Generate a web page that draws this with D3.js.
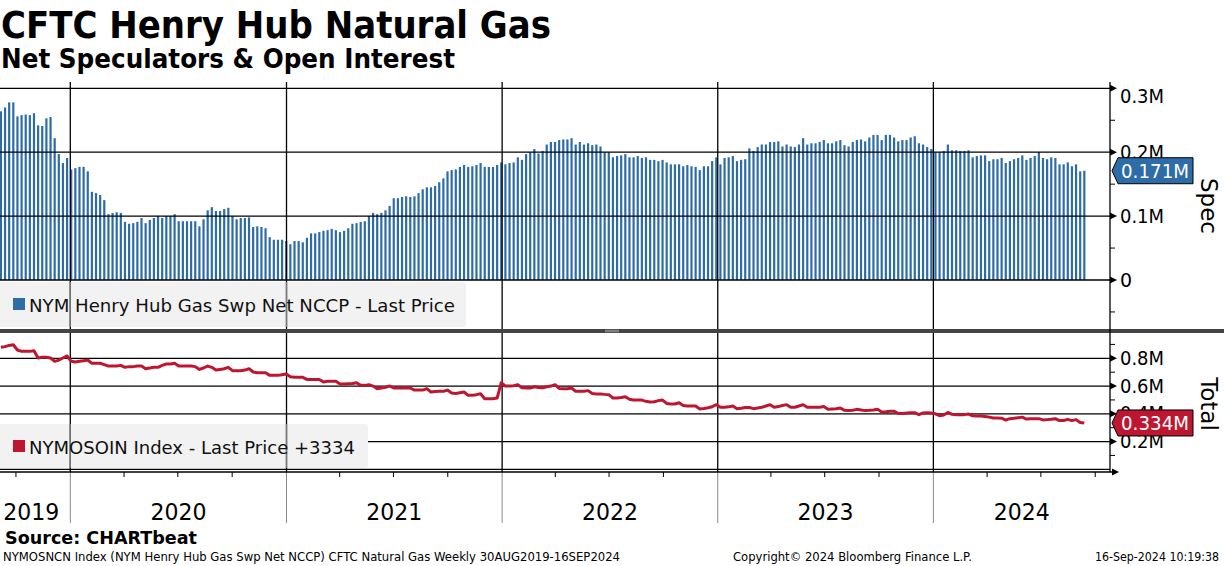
<!DOCTYPE html>
<html>
<head>
<meta charset="utf-8">
<script src="https://cdn.jsdelivr.net/npm/d3@7/dist/d3.min.js"></script>
<style>
  html, body { margin: 0; padding: 0; background: #fff; }
  svg { display: block; font-family: "DejaVu Sans", Verdana, sans-serif; }
</style>
</head>
<body>
<div id="chart"></div>
<script>
// CFTC Henry Hub natural gas: net speculators (bars) and open interest (line), weekly

var FIRST_WEEK = new Date(2019, 8, 3);   // first CFTC Tuesday shown

// net non-commercial position, thousands of contracts
var specK = [
  264, 270, 278, 278, 256, 258, 259, 258, 261, 242,
  241, 253, 255, 222, 197, 183, 191, 173, 175, 177,
  177, 170, 138, 136, 133, 125, 103, 105, 106, 105,
  91, 88, 89, 91, 97, 89, 94, 97, 100, 97,
  100, 100, 103, 92, 92, 92, 92, 92, 84, 95,
  109, 114, 108, 108, 111, 113, 100, 95, 97, 97,
  98, 83, 84, 83, 81, 67, 63, 63, 63, 61,
  56, 61, 61, 59, 66, 73, 73, 75, 77, 78,
  80, 78, 75, 77, 81, 88, 89, 91, 92, 100,
  105, 103, 105, 109, 116, 128, 128, 130, 131, 130,
  131, 136, 142, 145, 145, 147, 153, 159, 170, 172,
  173, 177, 180, 177, 178, 180, 183, 177, 177, 177,
  180, 184, 181, 183, 184, 192, 188, 197, 200, 205,
  198, 202, 212, 216, 216, 219, 220, 220, 222, 212,
  216, 212, 214, 211, 212, 209, 200, 200, 192, 194,
  195, 197, 192, 192, 194, 191, 192, 188, 188, 186,
  188, 184, 181, 181, 181, 178, 180, 178, 177, 172,
  178, 178, 186, 192, 181, 191, 192, 194, 186, 188,
  189, 206, 202, 208, 212, 212, 216, 216, 217, 209,
  212, 209, 208, 212, 222, 212, 214, 214, 216, 219,
  214, 214, 217, 219, 211, 209, 216, 219, 220, 217,
  223, 227, 227, 219, 227, 227, 223, 217, 219, 219,
  223, 225, 214, 212, 208, 205, 200, 200, 202, 212,
  203, 203, 202, 202, 203, 192, 194, 195, 195, 186,
  189, 189, 191, 183, 186, 189, 191, 195, 188, 191,
  194, 200, 191, 189, 192, 191, 181, 181, 184, 178,
  181, 170, 171
];

// total open interest, millions of contracts
var totalM = [
  .879, .884, .893, .898, .860, .850, .850, .850, .855, .802,
  .807, .807, .802, .778, .787, .802, .817, .778, .773, .778,
  .783, .788, .764, .764, .764, .754, .744, .744, .744, .749,
  .735, .740, .740, .744, .744, .725, .730, .735, .735, .749,
  .759, .759, .764, .744, .744, .744, .744, .740, .720, .730,
  .744, .735, .715, .720, .725, .735, .711, .711, .711, .715,
  .725, .701, .696, .696, .696, .677, .677, .677, .682, .687,
  .667, .663, .663, .663, .648, .648, .648, .648, .629, .634,
  .634, .634, .615, .615, .617, .619, .624, .605, .605, .610,
  .600, .581, .586, .591, .600, .586, .586, .586, .586, .586,
  .571, .571, .571, .581, .557, .560, .562, .562, .571, .550,
  .547, .552, .557, .533, .533, .538, .545, .509, .509, .509,
  .514, .624, .600, .600, .602, .610, .588, .586, .586, .595,
  .590, .588, .595, .600, .610, .583, .581, .581, .586, .562,
  .562, .562, .567, .547, .543, .543, .540, .538, .514, .514,
  .518, .523, .505, .499, .499, .499, .490, .485, .487, .495,
  .499, .475, .471, .471, .480, .460, .456, .456, .456, .435,
  .438, .444, .451, .466, .447, .447, .450, .456, .437, .440,
  .445, .445, .437, .442, .447, .456, .466, .447, .452, .460,
  .466, .447, .447, .456, .466, .447, .447, .447, .447, .452,
  .432, .435, .437, .442, .425, .423, .426, .432, .428, .423,
  .425, .428, .432, .413, .415, .418, .418, .403, .403, .405,
  .408, .408, .394, .406, .408, .405, .400, .386, .392, .410,
  .396, .394, .394, .394, .398, .386, .384, .384, .381, .376,
  .370, .370, .368, .355, .365, .368, .372, .376, .362, .365,
  .365, .365, .356, .358, .360, .365, .351, .352, .360, .351,
  .358, .338, .334
];

var specTicks = [0, 0.1, 0.2, 0.3];
var specMinor = [-0.05, 0.05, 0.15, 0.25];
var totalTicks = [0.2, 0.4, 0.6, 0.8];
var totalMinor = [0.1, 0.3, 0.5, 0.7, 0.9];
var years = [2019, 2020, 2021, 2022, 2023, 2024];

var TITLE = 'CFTC Henry Hub Natural Gas';
var SUBTITLE = 'Net Speculators & Open Interest';
var SPEC_LEGEND = 'NYM Henry Hub Gas Swp Net NCCP - Last Price';
var TOTAL_LEGEND = 'NYMOSOIN Index - Last Price +3334';
var FOOT_LEFT = 'NYMOSNCN Index (NYM Henry Hub Gas Swp Net NCCP) CFTC Natural Gas  Weekly 30AUG2019-16SEP2024';
var FOOT_MID = 'Copyright\u00a9 2024 Bloomberg Finance L.P.';
var FOOT_RIGHT = '16-Sep-2024 10:19:38';

var W = 1224, H = 566;
var AXIS_X = 1110;
var TOP_Y = 82;
var AXIS_Y = 472;
var BLUE = '#2d6ca6';
var RED = '#be1630';

var weeks = specK.map(function(v, i) { return d3.timeDay.offset(FIRST_WEEK, 7 * i); });

var x = d3.scaleTime()
  .domain([new Date(2019, 8, 4), new Date(2024, 9, 26)])
  .range([0, AXIS_X]);
var ySpec = d3.scaleLinear().domain([0, 0.3]).range([280, 88.3]);
var yTot = d3.scaleLinear().domain([0, 0.8]).range([469.3, 358.3]);

var svg = d3.select('#chart').append('svg')
  .attr('width', W)
  .attr('height', H);

function addText(g, str, px, py, size, opts) {
  opts = opts || {};
  var t = g.append('text')
    .attr('x', px)
    .attr('y', py)
    .attr('font-size', size + 'px')
    .attr('fill', opts.fill || '#000')
    .text(str);
  if (opts.bold) t.attr('font-weight', 'bold');
  if (opts.anchor) t.attr('text-anchor', opts.anchor);
  if (opts.len) t.attr('textLength', opts.len).attr('lengthAdjust', 'spacingAndGlyphs');
  if (opts.dy) t.attr('dy', opts.dy);
  return t;
}

// titles
addText(svg, TITLE, 1, 38, 37, { bold: true, len: 550 });
addText(svg, SUBTITLE, 1, 68, 26, { bold: true, len: 454 });

var gridG = svg.append('g');

// horizontal gridlines
[0].concat(totalTicks).forEach(function(v) {
  gridG.append('line')
    .attr('x1', 0).attr('x2', AXIS_X)
    .attr('y1', yTot(v)).attr('y2', yTot(v))
    .attr('stroke', '#000').attr('stroke-width', 1.3);
});

// bars
svg.append('g').selectAll('rect')
  .data(specK)
  .join('rect')
  .attr('x', function(d, i) { return x(weeks[i]) + 0.4; })
  .attr('width', 2.2)
  .attr('y', function(d) { return ySpec(d / 1000); })
  .attr('height', function(d) { return ySpec(0) - ySpec(d / 1000); })
  .attr('fill', BLUE);

// spec gridlines sit on top of the bars
specTicks.forEach(function(v) {
  svg.append('line')
    .attr('x1', 0).attr('x2', AXIS_X)
    .attr('y1', ySpec(v)).attr('y2', ySpec(v))
    .attr('stroke', '#000').attr('stroke-width', 1.3);
});

// legend boxes
var legends = [
  { x0: 0, x1: 466, y0: 282, y1: 327, color: BLUE, label: SPEC_LEGEND, len: 426 },
  { x0: 0, x1: 368, y0: 424, y1: 468, color: RED, label: TOTAL_LEGEND, len: 326 }
];
legends.forEach(function(lg) {
  svg.append('rect')
    .attr('x', lg.x0 - 4).attr('y', lg.y0)
    .attr('width', lg.x1 - lg.x0 + 4).attr('height', lg.y1 - lg.y0)
    .attr('rx', 3)
    .attr('fill', '#f2f2f2');
});

// year boundaries
var yearLines = years.slice(1).map(function(yr) { return x(new Date(yr, 0, 1)); });
yearLines.forEach(function(px) {
  svg.append('line')
    .attr('x1', px).attr('x2', px)
    .attr('y1', TOP_Y).attr('y2', AXIS_Y)
    .attr('stroke', '#000').attr('stroke-width', 1.3);
  legends.forEach(function(lg) {
    if (px < lg.x1) {
      svg.append('line')
        .attr('x1', px).attr('x2', px)
        .attr('y1', lg.y0).attr('y2', lg.y1)
        .attr('stroke', '#7a7a7a').attr('stroke-width', 1.3);
    }
  });
  svg.append('line')
    .attr('x1', px).attr('x2', px)
    .attr('y1', AXIS_Y).attr('y2', 523)
    .attr('stroke', '#8a8a8a').attr('stroke-width', 1);
});

legends.forEach(function(lg) {
  svg.append('rect')
    .attr('x', 13).attr('y', lg.y0 + 16)
    .attr('width', 12).attr('height', 12)
    .attr('fill', lg.color);
  addText(svg, lg.label, 29, lg.y0 + 30, 18, { len: lg.len, fill: '#111' });
});

// open interest line
var line = d3.line()
  .x(function(d, i) { return x(weeks[i]) + 1.5; })
  .y(function(d) { return yTot(d); });
svg.append('path')
  .datum(totalM)
  .attr('d', line)
  .attr('fill', 'none')
  .attr('stroke', RED)
  .attr('stroke-width', 3)
  .attr('stroke-linejoin', 'round');

// panel separator
svg.append('rect')
  .attr('x', 0).attr('y', 329)
  .attr('width', W).attr('height', 4)
  .attr('fill', '#444');
[330.3, 331.8].forEach(function(gy) {
  svg.append('line')
    .attr('x1', 605).attr('x2', 619)
    .attr('y1', gy).attr('y2', gy)
    .attr('stroke', '#aaa').attr('stroke-width', 0.8);
});

// x axis
svg.append('line')
  .attr('x1', 0).attr('x2', 1114)
  .attr('y1', AXIS_Y).attr('y2', AXIS_Y)
  .attr('stroke', '#000').attr('stroke-width', 1.3);
svg.append('path')
  .attr('d', 'M1112,468.5L1119,472L1112,475.5Z')
  .attr('fill', '#000');
var quarters = d3.timeMonth.every(3).range(new Date(2019, 9, 1), new Date(2024, 9, 2));
quarters.forEach(function(q) {
  if (q.getMonth() === 0) return;
  svg.append('line')
    .attr('x1', x(q)).attr('x2', x(q))
    .attr('y1', AXIS_Y).attr('y2', AXIS_Y + 5)
    .attr('stroke', '#000').attr('stroke-width', 1);
});
years.forEach(function(yr) {
  var a = Math.max(0, x(new Date(yr, 0, 1)));
  var b = Math.min(AXIS_X, x(new Date(yr + 1, 0, 1)));
  addText(svg, String(yr), (a + b) / 2 - (yr === 2019 ? 4 : 0), 520, 23, { anchor: 'middle', len: 56 });
});

// right axis
svg.append('line')
  .attr('x1', AXIS_X).attr('x2', AXIS_X)
  .attr('y1', TOP_Y).attr('y2', AXIS_Y)
  .attr('stroke', '#000').attr('stroke-width', 1.3);

function rightAxis(scale, ticks, minor, fmt) {
  var g = svg.append('g')
    .attr('transform', 'translate(' + AXIS_X + ',0)')
    .call(d3.axisRight(scale).tickValues(ticks).tickSize(0).tickPadding(10).tickFormat(fmt));
  g.select('.domain').remove();
  g.selectAll('text')
    .attr('font-size', '19px')
    .attr('font-family', '"DejaVu Sans", Verdana, sans-serif')
    .attr('fill', '#000')
    .each(function(d) {
      var t = d3.select(this);
      if (d !== 0) t.attr('textLength', 44).attr('lengthAdjust', 'spacingAndGlyphs');
      // keep the top label inside the plot frame
      if (scale(d) - 9 < TOP_Y) t.attr('y', 8);
    });
  ticks.forEach(function(v) {
    var ty = scale(v);
    svg.append('path')
      .attr('d', 'M' + AXIS_X + ',' + (ty - 3.5) + 'L' + (AXIS_X + 7) + ',' + ty + 'L' + AXIS_X + ',' + (ty + 3.5) + 'Z')
      .attr('fill', '#000');
  });
  minor.forEach(function(v) {
    svg.append('line')
      .attr('x1', AXIS_X).attr('x2', AXIS_X + 5)
      .attr('y1', scale(v)).attr('y2', scale(v))
      .attr('stroke', '#000').attr('stroke-width', 1);
  });
}
function fmtM(v) { return v === 0 ? '0' : d3.format('.1f')(v) + 'M'; }
rightAxis(ySpec, specTicks, specMinor, fmtM);
rightAxis(yTot, totalTicks, totalMinor, fmtM);

// last-value tags
function valueTag(yc, color, label) {
  svg.append('path')
    .attr('d', 'M' + (AXIS_X + 2) + ',' + yc +
      'L' + (AXIS_X + 8) + ',' + (yc - 13) +
      'L1193,' + (yc - 13) + 'L1193,' + (yc + 13) +
      'L' + (AXIS_X + 8) + ',' + (yc + 13) + 'Z')
    .attr('fill', color)
    .attr('stroke', '#000')
    .attr('stroke-width', 1);
  addText(svg, label, 1121, yc, 20, { fill: '#fff', dy: '0.36em', len: 68 });
}
valueTag(ySpec(specK[specK.length - 1] / 1000), BLUE, d3.format('.3f')(specK[specK.length - 1] / 1000) + 'M');
valueTag(yTot(totalM[totalM.length - 1]), RED, d3.format('.3f')(totalM[totalM.length - 1]) + 'M');

// axis titles
[{ label: 'Spec', cy: 206 }, { label: 'Total', cy: 404 }].forEach(function(a) {
  svg.append('text')
    .attr('transform', 'translate(1201,' + a.cy + ') rotate(90)')
    .attr('text-anchor', 'middle')
    .attr('font-size', '23px')
    .attr('fill', '#000')
    .text(a.label);
});

// footer
addText(svg, 'Source: CHARTbeat', 5, 544, 18, { bold: true, len: 192 });
addText(svg, FOOT_LEFT, 3, 561, 12, { len: 617 });
addText(svg, FOOT_MID, 733, 561, 12, { len: 239 });
addText(svg, FOOT_RIGHT, 1219, 561, 12, { anchor: 'end', len: 124 });
</script>
</body>
</html>
